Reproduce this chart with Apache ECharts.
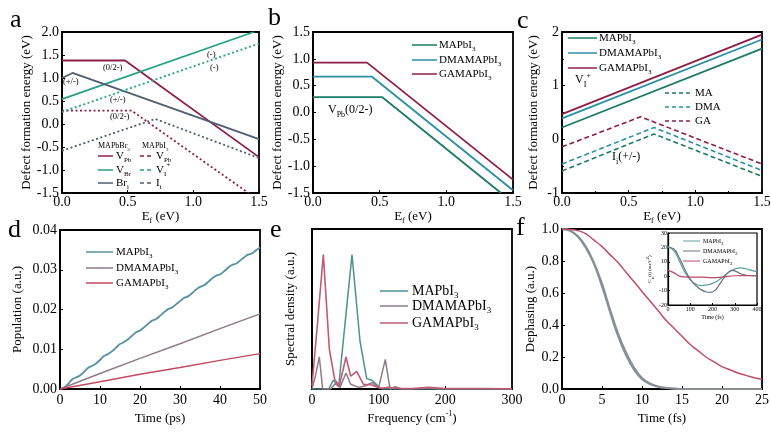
<!DOCTYPE html>
<html><head><meta charset="utf-8">
<script src="https://cdn.jsdelivr.net/npm/echarts@6/dist/echarts.min.js"></script>
<style>html,body{margin:0;padding:0;background:#fff}#c{width:771px;height:442px}</style>
</head><body><div id="c"></div>
<script>
// ---------- DATA ----------
// panel a : defect formation energy vs Ef (x in eV, y in eV)
const a_VPb_Br = [[0,1.38],[0.48,1.38],[1.5,-0.72]];
const a_VBr    = [[0,0.54],[1.46,2.0]];
const a_Bri    = [[0,1.0],[0.08,1.11],[1.5,-0.33]];
const a_VPb_I  = [[0,0.29],[0.53,0.29],[1.42,-1.5]];
const a_VI     = [[0,0.26],[1.5,1.75]];
const a_Ii     = [[0,-0.58],[0.71,0.11],[1.5,-0.74]];
// panel b : V_Pb(0/2-)
const b_MA  = [[0,0.285],[0.52,0.285],[1.41,-1.5]];
const b_DMA = [[0,0.67],[0.44,0.67],[1.5,-1.45]];
const b_GA  = [[0,0.93],[0.405,0.93],[1.5,-1.25]];
// panel c : V_I+ (solid) and I_i(+/-) (dashed)
const c_VI_MA  = [[0,0.22],[1.5,1.69]];
const c_VI_DMA = [[0,0.39],[1.5,1.86]];
const c_VI_GA  = [[0,0.47],[1.5,1.95]];
const c_Ii_MA  = [[0,-0.59],[0.69,0.1],[1.5,-0.69]];
const c_Ii_DMA = [[0,-0.46],[0.69,0.22],[1.5,-0.58]];
const c_Ii_GA  = [[0,-0.14],[0.59,0.42],[1.5,-0.46]];
// panel d : population vs time (ps), 1 ps steps
const dMA = [0,0.0004,0.0012,0.0024,0.0029,0.0034,0.0043,0.0053,0.0058,0.0064,0.0073,
  0.0083,0.0088,0.0095,0.0104,0.0113,0.0118,0.0125,0.0134,0.0143,0.0147,
  0.0155,0.0164,0.0172,0.0176,0.0184,0.0193,0.0201,0.0205,0.0213,0.0221,
  0.0229,0.0233,0.0241,0.0250,0.0257,0.0261,0.0269,0.0278,0.0285,0.0288,
  0.0296,0.0305,0.0312,0.0315,0.0323,0.0331,0.0338,0.0341,0.0349,0.0356];
const dDMA = [[0,0],[10,0.0039],[20,0.0077],[30,0.0114],[40,0.0152],[50,0.0189]];
const dGA  = [[0,0],[10,0.0018],[20,0.0037],[30,0.0054],[40,0.0072],[50,0.0089]];
// panel e : spectral density vs frequency (cm-1)
const eMA  = [[0,0],[25,0],[32,0.055],[40,0.015],[60,0.84],[72,0.3],[82,0.065],[90,0.055],[100,0.015],[105,0],[300,0]];
const eDMA = [[0,0],[5,0.08],[11,0.2],[16,0],[28,0],[35,0.035],[42,0.01],[51,0.1],[58,0.03],[70,0.01],[80,0.02],[90,0.04],[100,0.01],[110,0.185],[117,0],[125,0.015],[135,0],[160,0.003],[175,0.008],[190,0],[300,0]];
const eGA  = [[0,0.02],[8,0.4],[17,0.84],[26,0.25],[34,0.06],[41,0.02],[51,0.2],[58,0.08],[67,0.11],[77,0.03],[90,0.025],[102,0.005],[115,0.01],[130,0.004],[150,0.003],[175,0.01],[200,0.003],[250,0.003],[300,0.001]];
// panel f : dephasing vs time (fs), 1 fs steps
const fMA  = [1,0.99,0.95,0.88,0.78,0.64,0.48,0.33,0.21,0.12,0.06,0.03,0.014,0.006,0.002,0,0,0,0,0,0,0,0,0,0,0];
const fDMA = [1,0.99,0.955,0.89,0.79,0.66,0.50,0.35,0.23,0.135,0.07,0.035,0.017,0.008,0.003,0.001,0,0,0,0,0,0,0,0,0,0];
const fGA  = [1,0.998,0.99,0.97,0.93,0.89,0.84,0.79,0.73,0.67,0.61,0.55,0.49,0.43,0.38,0.33,0.28,0.24,0.20,0.17,0.14,0.12,0.10,0.085,0.07,0.06];
// inset : C_u(t) (meV^2) vs time (fs)
const iMA  = [[0,20.5],[25,18],[50,11],[75,3],[100,-2.5],[125,-5.5],[150,-6.5],[175,-6],[200,-5],[225,-3],[250,0],[275,3],[300,5],[325,5.8],[350,5.2],[375,4],[400,3]];
const iDMA = [[0,20],[25,19],[50,13],[75,5],[100,-2],[125,-6.5],[150,-9.5],[175,-11],[190,-11.3],[210,-10],[230,-6],[250,-1.5],[270,2.5],[290,4],[310,3],[330,1.5],[360,0.5],[400,0.3]];
const iGA  = [[0,4],[25,2.5],[50,0.2],[75,-0.5],[100,-0.6],[150,-0.7],[200,-1],[250,-0.5],[300,0.3],[350,0.4],[400,0.3]];

// ---------- RENDER ----------
const FONT = 'Liberation Serif';
function rich(s){
  let out='',last=0,m; const re=/([_^])\{([^}]*)\}/g;
  while((m=re.exec(s))){ if(m.index>last) out+='{n|'+s.slice(last,m.index)+'}'; out+='{'+(m[1]==='_'?'s':'p')+'|'+m[2]+'}'; last=re.lastIndex; }
  if(last<s.length) out+='{n|'+s.slice(last)+'}';
  return out;
}
function rs(fs){
  const ss=Math.max(5,Math.round(fs*0.64));
  return {n:{fontSize:fs,fontFamily:FONT,color:'#000',lineHeight:fs+5,verticalAlign:'middle'},
          s:{fontSize:ss,fontFamily:FONT,color:'#000',lineHeight:ss,verticalAlign:'bottom'},
          p:{fontSize:ss,fontFamily:FONT,color:'#000',lineHeight:ss,verticalAlign:'top'}};
}
function txt(x,y,s,fs,align){
  return {type:'text',x:x,y:y,silent:true,z:100,style:{text:rich(s),rich:rs(fs),font:fs+'px '+FONT,fill:'#000',
    align:align||'left',textAlign:align||'left',verticalAlign:'middle',textVerticalAlign:'middle'}};
}
function seg(x1,x2,y,color,dash,w){
  return {type:'line',silent:true,z:100,shape:{x1:x1,y1:y,x2:x2,y2:y},style:{stroke:color,lineWidth:w||1.5,lineDash:dash||null}};
}
const grids=[
  {left:62,top:32,width:197,height:161},
  {left:313,top:32,width:200,height:161},
  {left:562,top:32,width:200,height:161},
  {left:60,top:230,width:200,height:159},
  {left:312,top:229,width:200,height:160},
  {left:562,top:229,width:200,height:160},
  {left:668,top:233,width:89,height:72}
].map((g,i)=>Object.assign({show:true,borderColor:'#000',borderWidth:i===6?1.2:1.8,backgroundColor:i===6?'#fff':'transparent',containLabel:false,outerBoundsMode:'none',z:i===6?5:0},g));

function ax(gi,min,max,interval,o){
  o=o||{};
  const fs=o.fs||14;
  const a={gridIndex:gi,type:'value',min:min,max:max,interval:interval,z:gi===6?6:0,
    splitLine:{show:false},
    axisLine:{show:true,onZero:false,lineStyle:{color:'#000',width:gi===6?1.2:1.8}},
    axisTick:{show:o.tick!==false,inside:true,length:gi===6?2:3,lineStyle:{color:'#000'}},
    axisLabel:{show:o.label!==false,color:'#000',fontFamily:FONT,fontSize:fs,margin:o.margin!=null?o.margin:3,
      formatter:o.fmt||(v=>String(v))},
    name:o.name?rich(o.name):'',nameLocation:'middle',nameGap:o.gap||20,
    nameTextStyle:{rich:rs(o.nfs||13),fontFamily:FONT,fontSize:o.nfs||13,color:'#000'}};
  if(o.minor){a.minorTick={show:true,splitNumber:2,length:2,lineStyle:{color:'#000'}};}
  return a;
}
const f1=v=>v.toFixed(1), f2=v=>v.toFixed(2);
const xAxis=[
  ax(0,0,1.5,0.5,{fmt:f1,margin:2,name:'E_{f} (eV)',gap:11}),
  ax(1,0,1.5,0.5,{fmt:f1,margin:2,name:'E_{f} (eV)',gap:11}),
  ax(2,0,1.5,0.5,{fmt:f1,margin:2,name:'E_{f} (eV)',gap:11,minor:true}),
  ax(3,0,50,10,{margin:4,name:'Time (ps)',gap:21}),
  ax(4,0,300,100,{margin:4,name:'Frequency (cm^{-1})',gap:21}),
  ax(5,0,25,5,{margin:4,name:'Time (fs)',gap:21}),
  ax(6,0,400,100,{fs:6,nfs:6,margin:1,name:'Time (fs)',gap:7})
];
const yAxis=[
  ax(0,-1.5,2.0,0.5,{fmt:f1,name:'Defect formation energy (eV)',gap:22}),
  ax(1,-1.5,1.5,0.5,{fmt:f1,name:'Defect formation energy (eV)',gap:23}),
  ax(2,-1,2,1,{name:'Defect formation energy (eV)',gap:19,minor:true}),
  ax(3,0,0.04,0.01,{fmt:f2,name:'Population (a.u.)',gap:33}),
  ax(4,0,1,0.5,{label:false,tick:false,name:'Spectral density (a.u.)',gap:12}),
  ax(5,0,1,0.2,{fmt:f1,name:'Dephasing (a.u.)',gap:22}),
  ax(6,-20,30,10,{fs:6,nfs:5,margin:1,name:'C_{u}(t) (meV^{2})',gap:9})
];
function ln(gi,data,color,w,type,smooth){
  return {type:'line',xAxisIndex:gi,yAxisIndex:gi,data:data,showSymbol:false,symbol:'none',silent:true,animation:false,
    smooth:smooth||false,z:gi===6?7:2,lineStyle:{color:color,width:w||1.6,type:type||'solid'},clip:true};
}
const C={maroon:'#8e1e48',g:'#1d7b63',t:'#2b8fa2',vbr:'#27a083',bri:'#4f5e70',
  dMA:'#5590a5',dDMA:'#8d7b88',dGA:'#c24a60',eMA:'#4e9294',eDMA:'#8f7b88',eGA:'#c25a74',
  fMA:'#7499a5',fDMA:'#8a8d90',fGA:'#c04d68',iMA:'#5e9ea5',iDMA:'#66757f',iGA:'#b84a63'};
const DOT=[2,2.5], DASH=[5,3];
const idx=arr=>arr.map((v,i)=>[i,v]);
const series=[
  ln(0,a_VPb_Br,C.maroon,1.8), ln(0,a_VBr,C.vbr,1.8), ln(0,a_Bri,C.bri,1.8),
  ln(0,a_VPb_I,C.maroon,1.8,DOT), ln(0,a_VI,C.vbr,1.8,DOT), ln(0,a_Ii,C.bri,1.8,DOT),
  ln(1,b_MA,C.g,1.8), ln(1,b_DMA,C.t,1.8), ln(1,b_GA,C.maroon,1.8),
  ln(2,c_VI_MA,C.g,1.8), ln(2,c_VI_DMA,C.t,1.8), ln(2,c_VI_GA,C.maroon,1.8),
  ln(2,c_Ii_MA,C.g,1.6,DASH), ln(2,c_Ii_DMA,C.t,1.6,DASH), ln(2,c_Ii_GA,C.maroon,1.6,DASH),
  ln(3,idx(dMA),C.dMA,1.8,null,0.3), ln(3,dDMA,C.dDMA,1.5), ln(3,dGA,C.dGA,1.5),
  ln(4,eMA,C.eMA,1.5), ln(4,eDMA,C.eDMA,1.5), ln(4,eGA,C.eGA,1.6),
  ln(5,idx(fMA),C.fMA,1.8,null,0.4), ln(5,idx(fDMA),C.fDMA,1.8,null,0.4), ln(5,idx(fGA),C.fGA,1.5,null,0.4),
  ln(6,iMA,C.iMA,1.2,null,0.5), ln(6,iDMA,C.iDMA,1.2,null,0.5), ln(6,iGA,C.iGA,1.2,null,0.5)
];
const graphic=[
  // panel letters
  txt(10,20,'a',26), txt(268,18,'b',26), txt(517,21,'c',26),
  txt(8,230,'d',26), txt(270,230,'e',26), txt(516,228,'f',26),
  // panel a annotations
  txt(103,68,'(0/2-)',8.5), txt(63,82,'(+/-)',8.5), txt(207,55,'(-)',8.5), txt(210,68,'(-)',8.5),
  txt(110,100,'(+/-)',8.5), txt(110,117,'(0/2-)',8.5),
  // panel a legend
  txt(98,146,'MAPbBr_{3}',8), txt(142,146,'MAPbI_{3}',8),
  seg(98,113,156,C.maroon), seg(140,153,156,C.maroon,[4,3]), txt(116,156,'V_{Pb}',11), txt(156,156,'V_{Pb}',11),
  seg(98,113,170,C.vbr), seg(140,153,170,C.vbr,[4,3]), txt(116,170,'V_{Br}',11), txt(156,170,'V_{I}^{+}',11),
  seg(98,113,183,C.bri), seg(140,153,183,C.bri,[4,3]), txt(116,183,'Br_{i}',11), txt(156,183,'I_{i}',11),
  // panel b
  txt(328,110,'V_{Pb}(0/2-)',12),
  seg(412,437,45,C.g), txt(439,45,'MAPbI_{3}',11),
  seg(412,437,60,C.t), txt(439,60,'DMAMAPbI_{3}',11),
  seg(412,437,74,C.maroon), txt(439,74,'GAMAPbI_{3}',11),
  // panel c
  seg(568,597,38,C.g), txt(599,38,'MAPbI_{3}',11),
  seg(568,597,53,C.t), txt(599,53,'DMAMAPbI_{3}',11),
  seg(568,597,68,C.maroon), txt(599,68,'GAMAPbI_{3}',11),
  seg(665,692,93,C.g,[4,3]), txt(695,93,'MA',11),
  seg(665,692,107,C.t,[4,3]), txt(695,107,'DMA',11),
  seg(665,692,121,C.maroon,[4,3]), txt(695,121,'GA',11),
  txt(575,80,'V_{I}^{+}',12), txt(612,157,'I_{i}(+/-)',12),
  // panel d legend
  seg(86,113,252,C.dMA), txt(116,252,'MAPbI_{3}',11),
  seg(86,113,268,C.dDMA), txt(116,268,'DMAMAPbI_{3}',11),
  seg(86,113,283,C.dGA), txt(116,283,'GAMAPbI_{3}',11),
  // panel e legend
  seg(380,408,291,C.eMA), txt(412,291,'MAPbI_{3}',14),
  seg(380,408,306,C.eDMA), txt(412,306,'DMAMAPbI_{3}',14),
  seg(380,408,323,C.eGA), txt(412,323,'GAMAPbI_{3}',14),
  // inset legend
  seg(683,700,241,C.iMA,null,1), txt(703,241,'MAPbI_{3}',6),
  seg(683,700,251,C.iDMA,null,1), txt(703,251,'DMAMAPbI_{3}',6),
  seg(683,700,261,C.iGA,null,1), txt(703,261,'GAMAPbI_{3}',6)
];
const chart=echarts.init(document.getElementById('c'),null,{renderer:'canvas'});
chart.setOption({animation:false,backgroundColor:'#fff',grid:grids,xAxis:xAxis,yAxis:yAxis,series:series,graphic:graphic});
</script></body></html>
